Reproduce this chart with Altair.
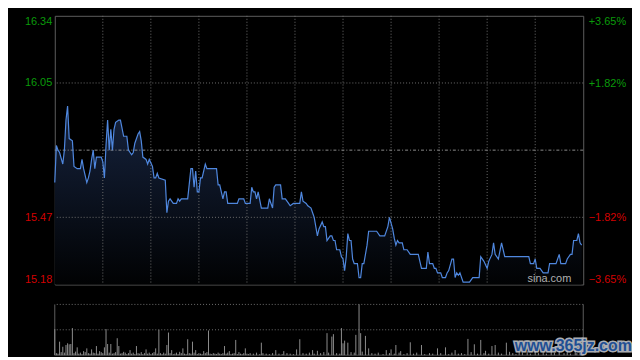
import altair as alt
import pandas as pd

# ---- data (minute of session, price) ----
price_pts = [
    (0, 15.62), (1, 15.78), (2, 15.76), (3, 15.75), (5, 15.70), (6, 15.76), (7, 15.89), (8, 15.95),
    (9, 15.81), (11, 15.80), (12, 15.69), (14, 15.68), (16, 15.68), (17, 15.72), (18, 15.68), (20, 15.62),
    (21, 15.64), (22, 15.67), (23, 15.72), (24, 15.76), (25, 15.68), (26, 15.73), (29, 15.73), (30, 15.71),
    (31, 15.64), (32, 15.78), (33, 15.89), (34, 15.76), (35, 15.85), (36, 15.76), (37, 15.85), (38, 15.88),
    (40, 15.89), (41, 15.89), (43, 15.82), (45, 15.82), (46, 15.76), (48, 15.74), (49, 15.75), (50, 15.79),
    (52, 15.83), (53, 15.84), (54, 15.80), (55, 15.73), (57, 15.72), (58, 15.70), (59, 15.72), (61, 15.69),
    (62, 15.64), (63, 15.64), (64, 15.66), (65, 15.64), (69, 15.63), (70, 15.49), (71, 15.54), (72, 15.55),
    (74, 15.53), (76, 15.53), (77, 15.55), (78, 15.54), (79, 15.55), (82, 15.55), (83, 15.55), (85, 15.68),
    (86, 15.68), (87, 15.60), (88, 15.67), (89, 15.58), (90, 15.58), (91, 15.64), (92, 15.64), (94, 15.70),
    (95, 15.68), (101, 15.68), (102, 15.61), (103, 15.61), (105, 15.55), (106, 15.58), (107, 15.58), (108, 15.53),
    (114, 15.53), (115, 15.55), (118, 15.55), (119, 15.53), (122, 15.53), (123, 15.60), (124, 15.58), (125, 15.58),
    (126, 15.55), (127, 15.58), (129, 15.51), (133, 15.51), (134, 15.55), (135, 15.53), (136, 15.51), (137, 15.60),
    (138, 15.61), (141, 15.61), (142, 15.55), (144, 15.55), (146, 15.53), (147, 15.52), (149, 15.53), (153, 15.53),
    (154, 15.58), (155, 15.54), (157, 15.53), (158, 15.52), (160, 15.51), (161, 15.49), (162, 15.47), (164, 15.39),
    (165, 15.42), (167, 15.45), (168, 15.43), (169, 15.43), (170, 15.37), (172, 15.39), (173, 15.39), (174, 15.37),
    (175, 15.37), (176, 15.33), (178, 15.33), (179, 15.30), (180, 15.29), (181, 15.24), (182, 15.30), (183, 15.40),
    (184, 15.37), (185, 15.37), (186, 15.29), (187, 15.27), (189, 15.27), (190, 15.21), (191, 15.21), (192, 15.27),
    (193, 15.27), (195, 15.35), (196, 15.41), (201, 15.41), (203, 15.39), (206, 15.39), (208, 15.43), (209, 15.47),
    (211, 15.42), (212, 15.38), (213, 15.35), (214, 15.37), (215, 15.36), (217, 15.36), (218, 15.33), (220, 15.33),
    (222, 15.31), (227, 15.31), (229, 15.25), (232, 15.25), (233, 15.32), (234, 15.27), (236, 15.27), (237, 15.25),
    (238, 15.25), (239, 15.23), (241, 15.23), (242, 15.21), (244, 15.21), (245, 15.23), (246, 15.24), (248, 15.29),
    (249, 15.29), (250, 15.21), (251, 15.23), (252, 15.22), (253, 15.23), (255, 15.19), (259, 15.19), (261, 15.21),
    (265, 15.21), (266, 15.30), (268, 15.28), (270, 15.25), (271, 15.28), (273, 15.31), (274, 15.36), (275, 15.31),
    (277, 15.29), (279, 15.36), (281, 15.30), (296, 15.30), (297, 15.27), (299, 15.27), (300, 15.29), (301, 15.25),
    (303, 15.25), (305, 15.23), (308, 15.23), (309, 15.27), (313, 15.27), (315, 15.31), (316, 15.27), (319, 15.27),
    (320, 15.29), (322, 15.31), (323, 15.31), (324, 15.37), (326, 15.37), (327, 15.40), (328, 15.36), (329, 15.35),
]

# (minute, volume in thousand shares)
vol_pts = [
    (0, 257), (3, 133), (5, 83), (7, 100), (8, 117), (9, 107), (10, 110), (11, 267), (14, 77), (18, 40),
    (20, 67), (23, 57), (26, 90), (28, 40), (31, 77), (32, 257), (33, 110), (35, 110), (39, 167), (40, 90),
    (43, 33), (47, 50), (51, 90), (57, 57), (63, 67), (65, 250), (70, 100), (71, 223), (73, 50), (78, 33),
    (80, 67), (83, 157), (86, 133), (88, 50), (93, 40), (96, 243), (106, 90), (109, 40), (113, 150), (119, 67),
    (129, 123), (138, 50), (143, 40), (151, 57), (153, 157), (161, 50), (164, 43), (170, 217), (173, 183),
    (174, 207), (179, 267), (180, 117), (181, 143), (183, 123), (188, 200), (190, 500), (191, 217), (194, 190),
    (196, 67), (207, 50), (210, 57), (213, 100), (216, 40), (222, 127), (229, 100), (239, 67), (244, 77),
    (250, 50), (258, 160), (262, 107), (266, 150), (269, 43), (273, 90), (275, 100), (282, 123), (284, 33),
    (290, 30), (295, 40), (300, 60), (305, 30), (310, 50), (315, 70), (320, 40), (325, 60), (328, 80),
    (1, 20), (2, 15), (4, 30), (6, 25), (12, 20), (13, 35), (15, 15), (16, 25), (17, 10), (19, 30), (21, 20),
    (22, 15), (24, 25), (25, 20), (27, 15), (29, 30), (30, 20), (34, 25), (36, 15), (37, 20), (38, 30), (41, 15),
    (42, 20), (44, 25), (45, 10), (46, 20), (48, 15), (49, 25), (50, 10), (52, 20), (53, 15), (54, 30), (55, 10),
    (56, 20), (58, 15), (59, 25), (60, 10), (61, 20), (62, 30), (64, 15), (66, 20), (67, 10), (68, 25), (69, 15),
    (72, 20), (74, 10), (75, 15), (76, 25), (77, 10), (79, 20), (81, 15), (82, 10), (84, 20), (85, 15), (87, 25),
    (89, 10), (90, 20), (91, 15), (92, 10), (94, 20), (95, 30), (97, 15), (98, 10), (99, 20), (100, 15), (101, 10),
    (102, 25), (103, 15), (104, 10), (105, 20), (107, 15), (108, 25), (110, 10), (111, 15), (112, 20), (114, 10),
    (115, 30), (116, 15), (117, 10), (118, 20), (120, 15), (121, 10), (122, 20), (124, 15), (126, 25), (128, 10),
    (130, 20), (132, 15), (134, 10), (136, 20), (140, 15), (142, 10), (145, 20), (147, 15), (149, 10), (155, 20),
    (157, 15), (159, 25), (162, 15), (166, 20), (168, 30), (171, 25), (176, 20), (178, 15), (185, 30), (187, 25),
    (192, 35), (198, 20), (200, 15), (202, 25), (205, 10), (209, 20), (212, 15), (215, 25), (218, 10), (220, 20),
    (224, 15), (226, 25), (231, 10), (234, 20), (236, 15), (241, 20), (246, 10), (248, 25), (252, 15), (254, 20),
    (256, 10), (260, 30), (264, 15), (268, 20), (271, 15), (277, 25), (279, 15), (286, 20), (288, 10), (292, 25),
    (297, 15), (302, 20), (307, 15), (312, 25), (318, 20), (322, 15), (326, 20),
]

price_ticks = [15.18, 15.47, 16.05, 16.34]
pct_ticks = [-3.65, -1.82, 1.82, 3.65]
grid_prices = [15.47, 16.05]
prev_close = 15.76
grid_minutes = [30, 60, 90, 120, 150, 180, 210, 240, 270, 300]
session_minutes = [0, 330]
vol_grid = [250, 500]

FONT = "Liberation Sans"
GREEN = "#0a9a0a"
RED = "#d40000"
GRID = "#6e6e6e"
FRAME = "#5e5e5e"

price_df = pd.DataFrame(price_pts, columns=["minute", "price"])
vol_df = pd.DataFrame(vol_pts, columns=["minute", "volume"])

W, H, VH = 531, 270, 51
xs = alt.Scale(domain=session_minutes, nice=False, zero=False)
ys = alt.Scale(domain=[price_ticks[0], price_ticks[-1]], nice=False, zero=False)
vs = alt.Scale(domain=[0, vol_grid[-1]], nice=False, zero=True)

left_axis = alt.Axis(
    values=price_ticks, title=None, domain=False, ticks=False, grid=False,
    labelFlush=True, labelPadding=3, labelFont=FONT, labelFontSize=11, format=".2f",
    labelColor={"condition": {"test": f"datum.value > {prev_close}", "value": GREEN}, "value": RED},
)
right_axis = alt.Axis(
    orient="right", values=pct_ticks, title=None, domain=False, ticks=False, grid=False,
    labelFlush=True, labelPadding=5, labelFont=FONT, labelFontSize=11,
    labelExpr="(datum.value > 0 ? '+' : '') + format(datum.value, '.2f') + '%'",
    labelColor={"condition": {"test": "datum.value > 0", "value": GREEN}, "value": RED},
)

X = alt.X("minute:Q", scale=xs, axis=None)
Y = alt.Y("price:Q", scale=ys, axis=left_axis)

area = alt.Chart(price_df).mark_area(
    color=alt.Gradient(gradient="linear", x1=1, x2=1, y1=0, y2=1,
                       stops=[alt.GradientStop(color="#16233e", offset=0),
                              alt.GradientStop(color="#010203", offset=1)])
).encode(x=X, y=Y, y2=alt.datum(price_ticks[0]))

vgrid = alt.Chart(pd.DataFrame({"minute": grid_minutes})).mark_rule(
    color=GRID, strokeDash=[1, 2], strokeWidth=1).encode(x=X)
hgrid = alt.Chart(pd.DataFrame({"price": grid_prices})).mark_rule(
    color=GRID, strokeDash=[1, 2], strokeWidth=1).encode(y=Y)
prev = alt.Chart(pd.DataFrame({"price": [prev_close]})).mark_rule(
    color="#8a8a8a", strokeDash=[3, 2, 1, 2], strokeWidth=1).encode(y=Y)
line = alt.Chart(price_df).mark_line(color="#4f87de", strokeWidth=1.2).encode(x=X, y=Y)
sina = alt.Chart(pd.DataFrame({"t": ["sina.com"]})).mark_text(
    align="right", baseline="bottom", color="#b0b0b0", font=FONT, fontSize=11
).encode(x=alt.value(519), y=alt.value(269), text="t:N")

price_layers = alt.layer(area, vgrid, hgrid, prev, line, sina)

# invisible rules that carry the right-hand percentage axis
pct_layer = alt.Chart(pd.DataFrame({"pct": pct_ticks})).mark_rule(opacity=0, strokeWidth=0).encode(
    y=alt.Y("pct:Q", scale=alt.Scale(domain=[pct_ticks[0], pct_ticks[-1]], nice=False, zero=False),
            axis=right_axis))

main = alt.layer(price_layers, pct_layer).resolve_scale(y="independent").properties(
    width=W, height=H, view=alt.ViewBackground(stroke=FRAME))

XV = alt.X("minute:Q", scale=xs, axis=None)
YV = alt.Y("volume:Q", scale=vs, axis=None)

v_hgrid = alt.Chart(pd.DataFrame({"volume": vol_grid})).mark_rule(
    color=GRID, strokeDash=[1, 2], strokeWidth=1).encode(y=YV)
v_sides = alt.Chart(pd.DataFrame({"minute": session_minutes})).mark_rule(
    color=FRAME, strokeWidth=1).encode(x=XV)
v_base = alt.Chart(pd.DataFrame({"volume": [0]})).mark_rule(
    color="#4a4a4a", strokeWidth=1).encode(y=YV)
v_bars = alt.Chart(vol_df).mark_rule(color="#8c8c8c", strokeWidth=1).encode(
    x=XV, y=YV, y2=alt.datum(0))
wm_df = pd.DataFrame({"t": ["www.365jz.com"]})
wm_outline = alt.Chart(wm_df).mark_text(
    align="center", baseline="middle", font=FONT, fontSize=16, fontWeight="bold",
    fill="#d0d4da", stroke="#c8ccd2", strokeWidth=3, opacity=0.85
).encode(x=alt.value(521), y=alt.value(42), text="t:N")
wm_fill = alt.Chart(wm_df).mark_text(
    align="center", baseline="middle", font=FONT, fontSize=16, fontWeight="bold",
    color="#1f4f94"
).encode(x=alt.value(521), y=alt.value(42), text="t:N")

vol = alt.layer(v_hgrid, v_sides, v_base, v_bars, wm_outline, wm_fill).properties(
    width=W, height=VH, view=alt.ViewBackground(stroke=None))

chart = alt.vconcat(main, vol, spacing=18).properties(
    background="#000000",
    padding={"left": 15, "top": 6, "right": 0, "bottom": 0},
)

chart.save("out.html", embed_options={"renderer": "svg", "actions": False})
